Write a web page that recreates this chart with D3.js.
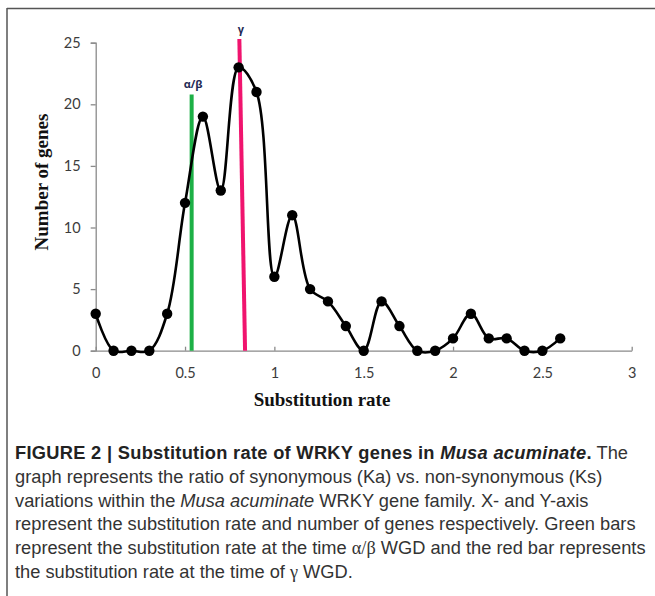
<!DOCTYPE html>
<html>
<head>
<meta charset="utf-8">
<script src="https://cdn.jsdelivr.net/npm/d3@7"></script>
<style>
  html, body { margin: 0; padding: 0; background: #fff; }
  svg { display: block; }
</style>
</head>
<body>
<svg id="chart" width="655" height="596"></svg>
<script>
// ---- data ----
const rates  = [0, 0.1, 0.2, 0.3, 0.4, 0.5, 0.6, 0.7, 0.8, 0.9, 1.0, 1.1, 1.2, 1.3, 1.4, 1.5, 1.6, 1.7, 1.8, 1.9, 2.0, 2.1, 2.2, 2.3, 2.4, 2.5, 2.6];
const counts = [3, 0, 0, 0, 3, 12, 19, 13, 23, 21, 6, 11, 5, 4, 2, 0, 4, 2, 0, 0, 1, 3, 1, 1, 0, 0, 1];
const xTicks = [0, 0.5, 1, 1.5, 2, 2.5, 3];
const yTicks = [0, 5, 10, 15, 20, 25];
// WGD marker bars: label, x at top, x at bottom, height
const wgdLabels = ["α/β", "γ"];
const wgdTopX   = [0.537, 0.804];
const wgdBotX   = [0.537, 0.836];
const wgdHeight = [20.8, 25.3];
const wgdColors = ["#1db046", "#f0146e"];
const captionLines = [
  [{t: "FIGURE 2 | Substitution rate of WRKY genes in ", b: true}, {t: "Musa acuminate", b: true, i: true}, {t: ".", b: true}, {t: " The"}],
  [{t: "graph represents the ratio of synonymous (Ka) vs. non-synonymous (Ks)"}],
  [{t: "variations within the "}, {t: "Musa acuminate", i: true}, {t: " WRKY gene family. X- and Y-axis"}],
  [{t: "represent the substitution rate and number of genes respectively. Green bars"}],
  [{t: "represent the substitution rate at the time "}, {t: "α/β", s: true}, {t: " WGD and the red bar represents"}],
  [{t: "the substitution rate at the time of "}, {t: "γ", s: true}, {t: " WGD."}]
];

// ---- drawing ----
const svg = d3.select("#chart");
const x = d3.scaleLinear().domain([0, 3]).range([95.7, 631.7]);
const y = d3.scaleLinear().domain([0, 25]).range([350.7, 42.7]);
const axisColor = "#8a8a8a";

// frame
svg.append("line").attr("x1", 7).attr("x2", 655).attr("y1", 8.5).attr("y2", 8.5)
  .attr("stroke", "#555").attr("stroke-width", 1.5);
svg.append("line").attr("x1", 7).attr("x2", 7).attr("y1", 8).attr("y2", 596)
  .attr("stroke", "#555").attr("stroke-width", 1.5);

// y axis
const yAxis = svg.append("g").attr("transform", `translate(${x(0)},0)`)
  .call(d3.axisLeft(y).tickValues(yTicks).tickSize(5).tickPadding(10).tickFormat(d3.format("d")));
yAxis.select(".domain").attr("stroke", axisColor).attr("stroke-width", 1.3);
yAxis.selectAll(".tick line").attr("stroke", axisColor).attr("stroke-width", 1.3);
yAxis.selectAll(".tick text").attr("fill", "#3c3c3c").style("font-family", "Lato, 'Open Sans', sans-serif").style("font-size", "14.5px");

// x axis
const xAxis = svg.append("g").attr("transform", `translate(0,${y(0)})`)
  .call(d3.axisBottom(x).tickValues(xTicks).tickSizeInner(-4).tickSizeOuter(0).tickPadding(17)
    .tickFormat(d => d3.format("")(d)));
xAxis.select(".domain").attr("stroke", axisColor).attr("stroke-width", 1.3);
xAxis.selectAll(".tick line").attr("stroke", axisColor).attr("stroke-width", 1.3);
xAxis.selectAll(".tick text").attr("fill", "#3c3c3c").style("font-family", "Lato, 'Open Sans', sans-serif").style("font-size", "14.5px");

// axis titles
svg.append("text").attr("x", 322).attr("y", 406).attr("text-anchor", "middle")
  .style("font-family", "'Liberation Serif', 'Times New Roman', serif").style("font-weight", "bold").style("font-size", "19px")
  .attr("fill", "#111").text("Substitution rate");
svg.append("text").attr("transform", "translate(48,182) rotate(-90)").attr("text-anchor", "middle")
  .style("font-family", "'Liberation Serif', 'Times New Roman', serif").style("font-weight", "bold").style("font-size", "19px")
  .attr("fill", "#111").text("Number of genes");

// WGD bars
const wgd = wgdLabels.map((l, i) => ({label: l, xt: wgdTopX[i], xb: wgdBotX[i], h: wgdHeight[i], c: wgdColors[i]}));
svg.selectAll("line.wgd").data(wgd).join("line").attr("class", "wgd")
  .attr("x1", d => x(d.xb)).attr("y1", y(0))
  .attr("x2", d => x(d.xt)).attr("y2", d => y(d.h))
  .attr("stroke", d => d.c).attr("stroke-width", 4);
svg.selectAll("text.wgd").data(wgd).join("text").attr("class", "wgd")
  .attr("x", d => x(d.xt) + 1.5).attr("y", d => y(d.h) - 6)
  .attr("text-anchor", "middle")
  .style("font-family", "'Open Sans', 'DejaVu Sans', sans-serif").style("font-weight", "bold").style("font-size", "11px")
  .attr("fill", "#1f2a55").text(d => d.label);

// data line
const pts = rates.map((r, i) => [r, counts[i]]);
const line = d3.line().x(d => x(d[0])).y(d => y(d[1])).curve(d3.curveCatmullRom.alpha(0.5));
svg.append("path").datum(pts).attr("d", line).attr("fill", "none")
  .attr("stroke", "#000").attr("stroke-width", 2.6).attr("stroke-linejoin", "round");
svg.selectAll("circle.pt").data(pts).join("circle").attr("class", "pt")
  .attr("cx", d => x(d[0])).attr("cy", d => y(d[1])).attr("r", 5.2).attr("fill", "#000");

// caption
const cap = svg.append("g").style("font-family", "'Liberation Sans', Arial, sans-serif").style("font-size", "18.25px").attr("fill", "#333");
captionLines.forEach((parts, li) => {
  const t = cap.append("text").attr("x", 15).attr("y", 459 + li * 23.8);
  parts.forEach(p => {
    const ts = t.append("tspan").text(p.t);
    if (p.b) ts.style("font-weight", "bold").style("letter-spacing", "0.3px").attr("fill", "#222");
    if (p.i) ts.style("font-style", "italic");
    if (p.s) ts.style("font-family", "'Liberation Serif', serif");
  });
});
</script>
</body>
</html>
